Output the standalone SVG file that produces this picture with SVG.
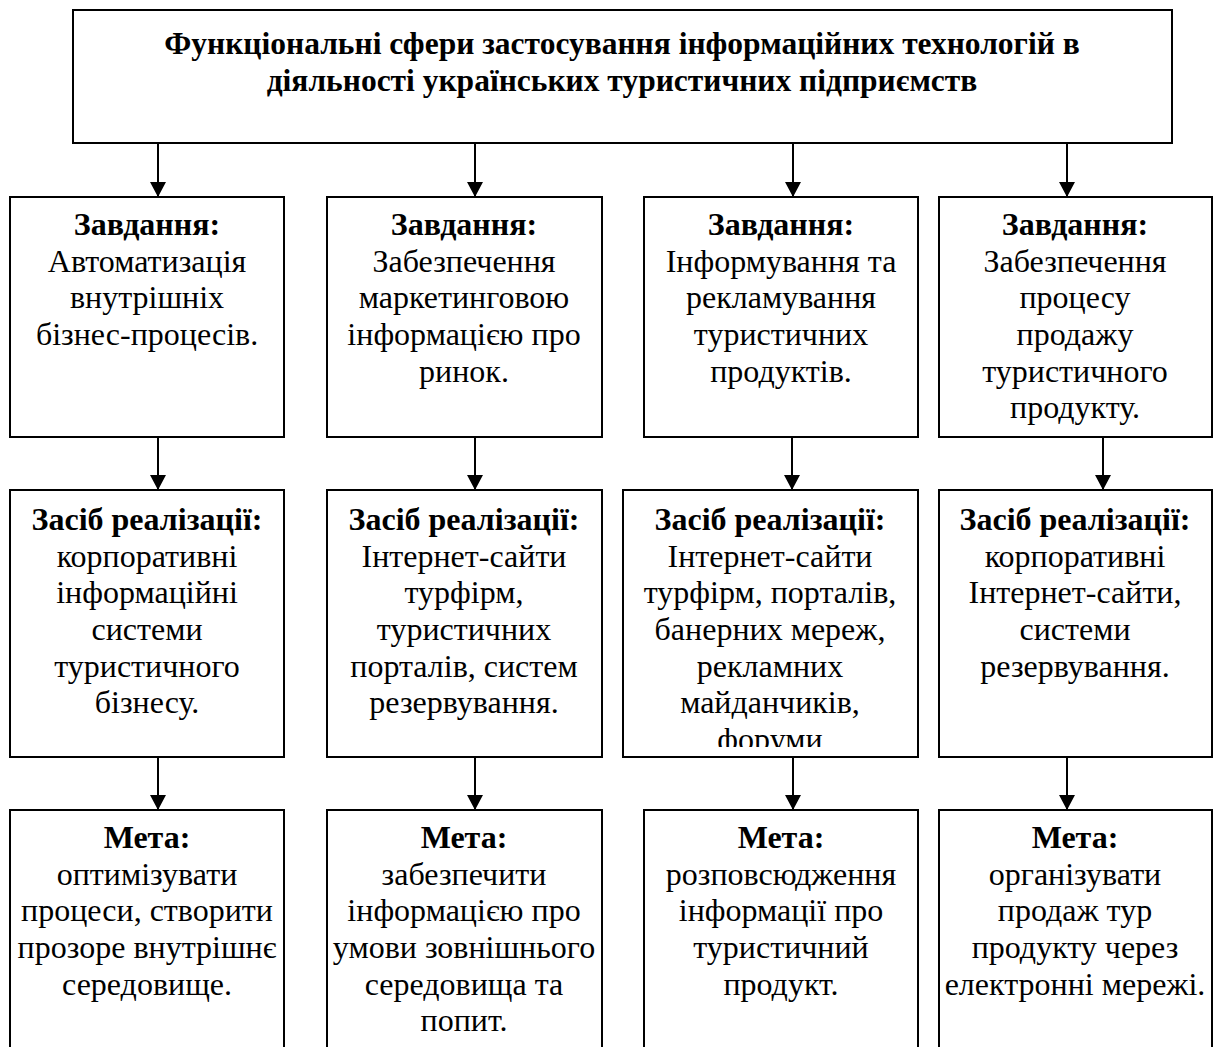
<svg xmlns="http://www.w3.org/2000/svg" width="1213" height="1047" viewBox="0 0 1213 1047">
<style>
.box{fill:#fff;stroke:#000;stroke-width:2}
.t{font-family:"Liberation Serif","Times New Roman",serif;font-size:32px;fill:#000;text-anchor:middle}
.b{font-weight:bold}
.title{font-family:"Liberation Serif","Times New Roman",serif;font-size:31.5px;font-weight:bold;fill:#000;text-anchor:middle}
.c{stroke:#000;stroke-width:2;fill:none;marker-end:url(#ah)}
</style>
<defs>
<marker id="ah" markerUnits="userSpaceOnUse" markerWidth="16" markerHeight="16" refX="15" refY="8" orient="auto">
<path d="M0,0 L15,8 L0,16 z" fill="#000"/>
</marker>
<clipPath id="clip3b"><rect x="623" y="490" width="295" height="257"/></clipPath>
</defs>
<rect width="1213" height="1047" fill="#fff"/>
<g id="connectors">
<line class="c" x1="158" y1="143" x2="158" y2="197"/>
<line class="c" x1="475" y1="143" x2="475" y2="197"/>
<line class="c" x1="793" y1="143" x2="793" y2="197"/>
<line class="c" x1="1067" y1="143" x2="1067" y2="197"/>
<line class="c" x1="158" y1="437" x2="158" y2="490"/>
<line class="c" x1="475" y1="437" x2="475" y2="490"/>
<line class="c" x1="792" y1="437" x2="792" y2="490"/>
<line class="c" x1="1103" y1="437" x2="1103" y2="490"/>
<line class="c" x1="158" y1="757" x2="158" y2="810"/>
<line class="c" x1="475" y1="757" x2="475" y2="810"/>
<line class="c" x1="793" y1="757" x2="793" y2="810"/>
<line class="c" x1="1067" y1="757" x2="1067" y2="810"/>
</g>
<g id="title">
<rect class="box" x="73" y="10" width="1099" height="133"/>
<text class="title" x="622" y="54">Функціональні сфери застосування інформаційних технологій в</text>
<text class="title" x="622" y="91">діяльності українських туристичних підприємств</text>
</g>
<g id="task1">
<rect class="box" x="10" y="197" width="274" height="240"/>
<text class="t"><tspan class="b" x="147" y="235">Завдання:</tspan><tspan x="147" y="272">Автоматизація</tspan><tspan x="147" y="308">внутрішніх</tspan><tspan x="147" y="345">бізнес-процесів.</tspan></text>
</g>
<g id="task2">
<rect class="box" x="327" y="197" width="275" height="240"/>
<text class="t"><tspan class="b" x="464" y="235">Завдання:</tspan><tspan x="464" y="272">Забезпечення</tspan><tspan x="464" y="308">маркетинговою</tspan><tspan x="464" y="345">інформацією про</tspan><tspan x="464" y="382">ринок.</tspan></text>
</g>
<g id="task3">
<rect class="box" x="644" y="197" width="274" height="240"/>
<text class="t"><tspan class="b" x="781" y="235">Завдання:</tspan><tspan x="781" y="272">Інформування та</tspan><tspan x="781" y="308">рекламування</tspan><tspan x="781" y="345">туристичних</tspan><tspan x="781" y="382">продуктів.</tspan></text>
</g>
<g id="task4">
<rect class="box" x="939" y="197" width="273" height="240"/>
<text class="t"><tspan class="b" x="1075" y="235">Завдання:</tspan><tspan x="1075" y="272">Забезпечення</tspan><tspan x="1075" y="308">процесу</tspan><tspan x="1075" y="345">продажу</tspan><tspan x="1075" y="382">туристичного</tspan><tspan x="1075" y="418">продукту.</tspan></text>
</g>
<g id="means1">
<rect class="box" x="10" y="490" width="274" height="267"/>
<text class="t"><tspan class="b" x="147" y="530">Засіб реалізації:</tspan><tspan x="147" y="567">корпоративні</tspan><tspan x="147" y="603">інформаційні</tspan><tspan x="147" y="640">системи</tspan><tspan x="147" y="677">туристичного</tspan><tspan x="147" y="713">бізнесу.</tspan></text>
</g>
<g id="means2">
<rect class="box" x="327" y="490" width="275" height="267"/>
<text class="t"><tspan class="b" x="464" y="530">Засіб реалізації:</tspan><tspan x="464" y="567">Інтернет-сайти</tspan><tspan x="464" y="603">турфірм,</tspan><tspan x="464" y="640">туристичних</tspan><tspan x="464" y="677">порталів, систем</tspan><tspan x="464" y="713">резервування.</tspan></text>
</g>
<g id="means3">
<rect class="box" x="623" y="490" width="295" height="267"/>
<text class="t" clip-path="url(#clip3b)"><tspan class="b" x="770" y="530">Засіб реалізації:</tspan><tspan x="770" y="567">Інтернет-сайти</tspan><tspan x="770" y="603">турфірм, порталів,</tspan><tspan x="770" y="640">банерних мереж,</tspan><tspan x="770" y="677">рекламних</tspan><tspan x="770" y="713">майданчиків,</tspan><tspan x="770" y="750">форуми</tspan></text>
</g>
<g id="means4">
<rect class="box" x="939" y="490" width="273" height="267"/>
<text class="t"><tspan class="b" x="1075" y="530">Засіб реалізації:</tspan><tspan x="1075" y="567">корпоративні</tspan><tspan x="1075" y="603">Інтернет-сайти,</tspan><tspan x="1075" y="640">системи</tspan><tspan x="1075" y="677">резервування.</tspan></text>
</g>
<g id="goal1">
<rect class="box" x="10" y="810" width="274" height="260"/>
<text class="t"><tspan class="b" x="147" y="848">Мета:</tspan><tspan x="147" y="885">оптимізувати</tspan><tspan x="147" y="921">процеси, створити</tspan><tspan x="147" y="958">прозоре внутрішнє</tspan><tspan x="147" y="995">середовище.</tspan></text>
</g>
<g id="goal2">
<rect class="box" x="327" y="810" width="275" height="260"/>
<text class="t"><tspan class="b" x="464" y="848">Мета:</tspan><tspan x="464" y="885">забезпечити</tspan><tspan x="464" y="921">інформацією про</tspan><tspan x="464" y="958">умови зовнішнього</tspan><tspan x="464" y="995">середовища та</tspan><tspan x="464" y="1031">попит.</tspan></text>
</g>
<g id="goal3">
<rect class="box" x="644" y="810" width="274" height="260"/>
<text class="t"><tspan class="b" x="781" y="848">Мета:</tspan><tspan x="781" y="885">розповсюдження</tspan><tspan x="781" y="921">інформації про</tspan><tspan x="781" y="958">туристичний</tspan><tspan x="781" y="995">продукт.</tspan></text>
</g>
<g id="goal4">
<rect class="box" x="939" y="810" width="273" height="260"/>
<text class="t"><tspan class="b" x="1075" y="848">Мета:</tspan><tspan x="1075" y="885">організувати</tspan><tspan x="1075" y="921">продаж тур</tspan><tspan x="1075" y="958">продукту через</tspan><tspan x="1075" y="995">електронні мережі.</tspan></text>
</g>
</svg>
